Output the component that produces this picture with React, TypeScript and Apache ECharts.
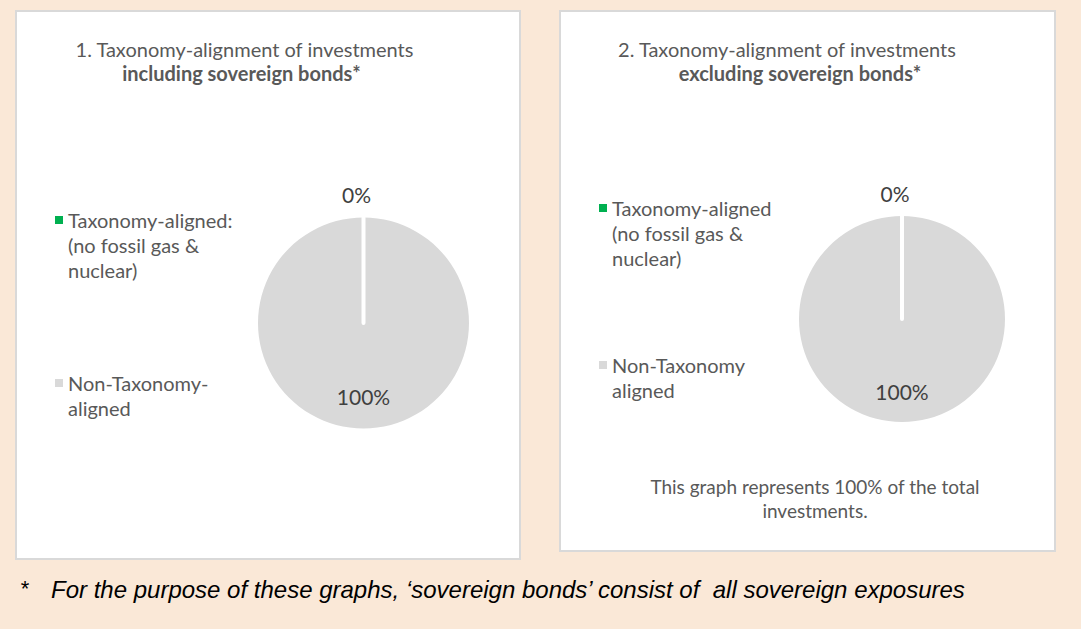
import React, { useEffect, useRef } from 'react';
import * as echarts from 'echarts';

const chart1Labels = ['Taxonomy-aligned:\n(no fossil gas &\nnuclear)', 'Non-Taxonomy-\naligned'];
const chart2Labels = ['Taxonomy-aligned\n(no fossil gas &\nnuclear)', 'Non-Taxonomy\naligned'];
const chart1Values = [0, 100];
const chart2Values = [0, 100];
const sliceColors = ['#00B050', '#D9D9D9'];
const chart1Title = ['1. Taxonomy-alignment of investments', 'including sovereign bonds*'];
const chart2Title = ['2. Taxonomy-alignment of investments', 'excluding sovereign bonds*'];
const chart2Note = 'This graph represents 100% of the total\ninvestments.';
const footnoteMark = '*';
const footnoteText = 'For the purpose of these graphs, \u2018sovereign bonds\u2019 consist of  all sovereign exposures';

const FONT = 'Lato, "Open Sans", sans-serif';
const GREY_TEXT = '#595959';
const LINE_H = 25;

function pieSeries(labels: string[], values: number[], center: number[], radius: number) {
  return {
    type: 'pie',
    center,
    radius,
    startAngle: 90,
    clockwise: true,
    avoidLabelOverlap: false,
    silent: true,
    label: {
      formatter: '{d}%',
      fontFamily: FONT,
      fontSize: 21,
      color: '#404040',
    },
    labelLayout: (p: any) => (p.dataIndex === 0 ? { dy: 18 } : { dx: -7, align: 'center' }),
    data: [
      {
        name: labels[1],
        value: values[1],
        itemStyle: { color: sliceColors[1] },
        label: { position: 'inside' },
      },
      {
        name: labels[0],
        value: values[0],
        itemStyle: { color: sliceColors[0], borderColor: '#FFFFFF', borderWidth: 4 },
        label: { position: 'outside', distanceToLabelLine: 0 },
        labelLine: { show: false, length: 23, length2: 0 },
      },
    ],
  };
}

// marker sits beside the first text line: the icon box is stretched so that
// its vertical middle matches the middle of the wrapped label
function legendItem(name: string, left: number, top: number) {
  const lines = name.split('\n').length;
  const size = 8;
  const boxH = size + (lines - 1) * LINE_H;
  return {
    orient: 'vertical',
    left,
    top,
    padding: 0,
    itemWidth: size,
    itemHeight: boxH,
    selectedMode: false,
    itemStyle: { borderWidth: 0 },
    textStyle: { fontFamily: FONT, fontSize: 20, color: GREY_TEXT, lineHeight: LINE_H },
    data: [{ name, icon: `path://M0,0H${size}V${size}H0Z M0,${boxH}` }],
  };
}

export default function App() {
  const ref = useRef<HTMLDivElement>(null);
  useEffect(() => {
    if (!ref.current) return;
    const chart = echarts.init(ref.current, null, { renderer: 'svg' });
    const textEl = (text: string, x: number, y: number, extra: any = {}) => ({
      type: 'text',
      x,
      y,
      z: 1,
      style: {
        text,
        fontFamily: FONT,
        fontSize: 20,
        fill: GREY_TEXT,
        align: 'center',
        verticalAlign: 'middle',
        ...extra,
      },
    });
    const ARIAL = '"Liberation Sans", Arial, sans-serif';
    chart.setOption({
      animation: false,
      backgroundColor: '#FAE8D7',
      graphic: [
        { type: 'rect', z: 0, shape: { x: 16, y: 11, width: 504, height: 548 }, style: { fill: '#FFFFFF', stroke: '#D9D9D9', lineWidth: 2 } },
        { type: 'rect', z: 0, shape: { x: 560, y: 11, width: 495, height: 540 }, style: { fill: '#FFFFFF', stroke: '#D9D9D9', lineWidth: 2 } },
        textEl(chart1Title[0], 244.5, 48.5),
        textEl(chart1Title[1], 241.5, 73, { fontWeight: 'bold' }),
        textEl(chart2Title[0], 787, 48.5),
        textEl(chart2Title[1], 800, 73, { fontWeight: 'bold' }),
        textEl(chart2Note, 815, 498, { fontSize: 19, lineHeight: 24 }),
        textEl(footnoteMark, 25, 588, { fontFamily: ARIAL, fontSize: 22, fill: '#000000' }),
        textEl(footnoteText, 51, 589, { fontFamily: ARIAL, fontSize: 24, fontStyle: 'italic', fill: '#000000', align: 'left' }),
      ],
      legend: [
        legendItem(chart1Labels[0], 55, 207.5),
        legendItem(chart1Labels[1], 55, 370.5),
        legendItem(chart2Labels[0], 599, 195.5),
        legendItem(chart2Labels[1], 599, 352.5),
      ],
      series: [
        pieSeries(chart1Labels, chart1Values, [363.5, 323], 105.5),
        pieSeries(chart2Labels, chart2Values, [902, 319], 103),
      ],
    });
    return () => chart.dispose();
  }, []);
  return <div ref={ref} style={{ position: 'fixed', left: 0, top: 0, width: 1081, height: 629 }} />;
}
